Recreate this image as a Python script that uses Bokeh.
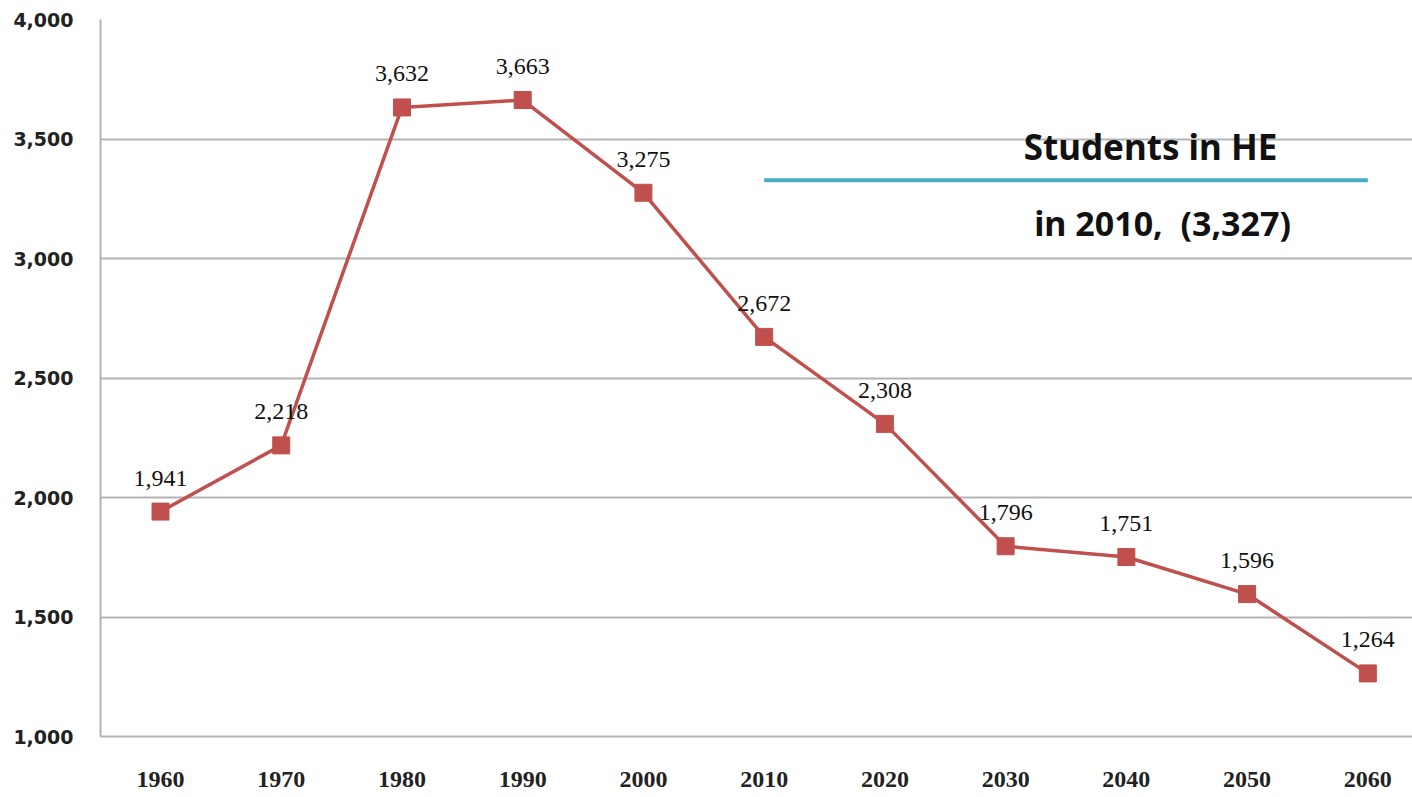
from bokeh.plotting import figure
from bokeh.models import ColumnDataSource, Range1d, FixedTicker, LabelSet, Label
from bokeh.embed import file_html
from bokeh.resources import INLINE

years = [1960, 1970, 1980, 1990, 2000, 2010, 2020, 2030, 2040, 2050, 2060]
students = [1941, 2218, 3632, 3663, 3275, 2672, 2308, 1796, 1751, 1596, 1264]
labels = ["1,941", "2,218", "3,632", "3,663", "3,275", "2,672", "2,308", "1,796", "1,751", "1,596", "1,264"]
y_ticks = [1000, 1500, 2000, 2500, 3000, 3500, 4000]
ref_value = 3327
ref_start, ref_end = 2010, 2060
ref_title = "Students in HE"
ref_text = "in 2010,\u00a0 (3,327)"

src = ColumnDataSource(dict(x=years, y=students, t=labels))

p = figure(width=1412, height=797, output_backend="svg", toolbar_location=None,
           x_range=Range1d(1955.03, 2063.7), y_range=Range1d(1000, 4000),
           min_border_left=100, min_border_right=0, min_border_top=19, min_border_bottom=61)
p.outline_line_color = None
p.background_fill_color = "white"

p.xgrid.grid_line_color = None
p.ygrid.grid_line_color = "#b4b4b4"
p.ygrid.grid_line_width = 2
p.yaxis.ticker = FixedTicker(ticks=y_ticks)
p.yaxis.major_label_overrides = {v: f"{v:,}" for v in y_ticks}
p.xaxis.ticker = FixedTicker(ticks=years)
p.xaxis.major_label_overrides = {v: str(v) for v in years}

for ax in (p.xaxis[0], p.yaxis[0]):
    ax.axis_line_color = "#b4b4b4"
    ax.axis_line_width = 2
    ax.major_tick_line_color = None
    ax.minor_tick_line_color = None
    ax.major_tick_out = 0
    ax.major_tick_in = 0
    ax.minor_tick_out = 0
    ax.major_label_text_font_style = "bold"
    ax.major_label_text_color = "#222222"
p.yaxis.major_label_text_font = "DejaVu Sans"
p.yaxis.major_label_text_font_size = "19px"
p.yaxis.major_label_standoff = 27
p.xaxis.major_label_text_font = "Liberation Serif"
p.xaxis.major_label_text_font_size = "24px"
p.xaxis.major_label_standoff = 35

p.line("x", "y", source=src, line_color="#c0504d", line_width=3.5)
p.scatter("x", "y", source=src, marker="square", size=17, fill_color="#c0504d", line_color="#c0504d")

p.add_layout(LabelSet(x="x", y="y", text="t", source=src, y_offset=26, text_align="center",
                      text_baseline="bottom", text_font="Liberation Serif", text_font_size="24px",
                      text_color="#111111"))

p.segment(x0=[ref_start], y0=[ref_value], x1=[ref_end], y1=[ref_value], line_color="#4bacc6", line_width=4)
p.add_layout(Label(x=2042.0, y=ref_value, text=ref_title, y_offset=10, text_align="center",
                   text_baseline="bottom", text_font="Noto Sans", text_font_style="bold",
                   text_font_size="35px", text_color="#111111"))
p.add_layout(Label(x=2043.0, y=ref_value, text=ref_text, y_offset=-20, text_align="center",
                   text_baseline="top", text_font="Noto Sans", text_font_style="bold",
                   text_font_size="34px", text_color="#111111"))

open("out.html", "w").write(file_html(p, INLINE))
